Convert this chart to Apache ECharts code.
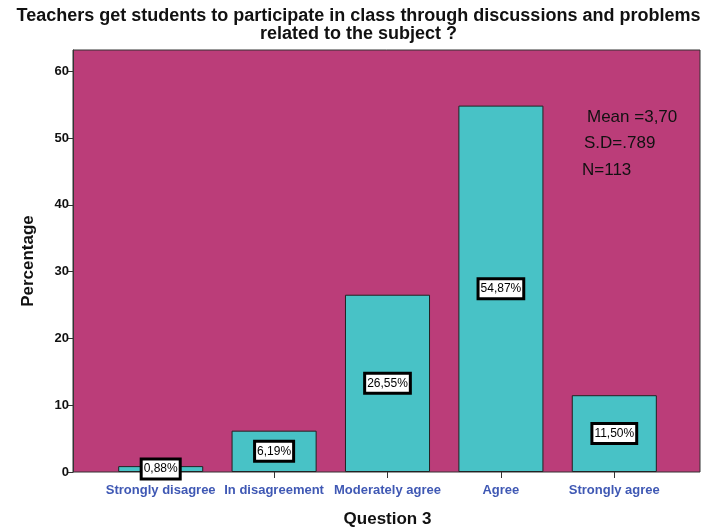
<!DOCTYPE html>
<html>
<head>
<meta charset="utf-8">
<script src="https://cdn.jsdelivr.net/npm/echarts@6/dist/echarts.min.js"></script>
<style>
  html, body { margin: 0; padding: 0; background: #fff; }
  #chart { width: 717px; height: 527px; }
</style>
</head>
<body>
<div id="chart"></div>
<script>
  // answers to question 3
  const categories = ['Strongly disagree', 'In disagreement', 'Moderately agree', 'Agree', 'Strongly agree']
  const percentages = [0.88, 6.19, 26.55, 54.87, 11.50]
  const yTicks = [0, 10, 20, 30, 40, 50, 60]
  const statLines = ['Mean =3,70', 'S.D=.789', 'N=113']

  const font = '"Liberation Sans", Arial, sans-serif'
  const chart = echarts.init(document.getElementById('chart'))

  // stats box, each line sits a little further left like the original
  const statPos = [[587, 109], [584, 135], [582, 162]]

  chart.setOption({
    backgroundColor: '#fff',
    animation: false,
    title: {
      text: 'Teachers get students to participate in class through discussions and problems\nrelated to the subject ?',
      left: 'center',
      top: 2,
      textStyle: {
        fontFamily: font,
        fontSize: 18,
        fontWeight: 'bold',
        color: '#111',
        lineHeight: 18
      }
    },
    graphic: [
      {
        type: 'rect',
        z: -1,
        shape: { x: 73, y: 50, width: 627, height: 422 },
        style: { fill: '#bb3d79', stroke: '#333', lineWidth: 1 }
      }
    ].concat(statLines.map(function (t, i) {
      return {
        type: 'text',
        left: statPos[i][0],
        top: statPos[i][1],
        z: 10,
        style: { text: t, fontFamily: font, fontSize: 17, fill: '#111' }
      }
    })),
    grid: {
      left: 104,
      right: 46,
      top: 50,
      bottom: 55,
      containLabel: false,
      outerBoundsMode: 'none'
    },
    xAxis: {
      type: 'category',
      data: categories,
      name: 'Question 3',
      nameLocation: 'middle',
      nameGap: 39,
      nameTextStyle: { fontFamily: font, fontSize: 17, fontWeight: 'bold', color: '#111' },
      axisLine: { show: false },
      axisTick: { show: true, alignWithLabel: true, length: 6, lineStyle: { color: '#333' } },
      axisLabel: {
        interval: 0,
        margin: 12,
        fontFamily: font,
        fontSize: 13,
        fontWeight: 'bold',
        color: '#3f58b4'
      }
    },
    yAxis: {
      type: 'value',
      min: 0,
      max: 63.2,
      interval: 10,
      offset: 31,
      name: 'Percentage',
      nameLocation: 'middle',
      nameGap: 36,
      nameTextStyle: { fontFamily: font, fontSize: 17, fontWeight: 'bold', color: '#111' },
      axisLine: { show: true, lineStyle: { color: '#333' } },
      axisTick: { show: true, length: 5, customValues: yTicks, lineStyle: { color: '#333' } },
      splitLine: { show: false },
      axisLabel: {
        customValues: yTicks,
        fontFamily: font,
        fontSize: 13,
        fontWeight: 'bold',
        color: '#111',
        margin: 4
      }
    },
    series: [
      {
        type: 'bar',
        data: percentages,
        barWidth: '75%',
        itemStyle: { color: '#48c2c6', borderColor: '#222', borderWidth: 1 },
        label: {
          show: true,
          position: 'inside',
          formatter: function (p) { return p.value.toFixed(2).replace('.', ',') + '%' },
          fontFamily: font,
          fontSize: 12,
          color: '#000',
          backgroundColor: '#fff',
          borderColor: '#000',
          borderWidth: 3,
          padding: [3, 1, 2, 1]
        }
      }
    ]
  })
</script>
</body>
</html>
